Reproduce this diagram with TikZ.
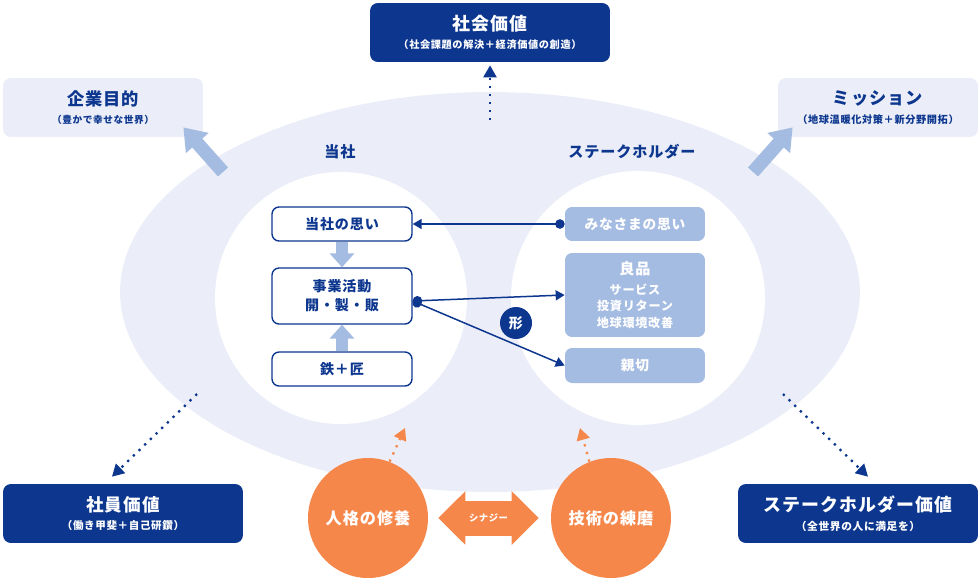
\documentclass[tikz,border=0pt]{standalone}
\usepackage{fontspec}
\setmainfont{Noto Sans CJK JP}[LetterSpace=6]
\usetikzlibrary{arrows.meta,positioning,calc}
\definecolor{kpnavy}{HTML}{0D378F}
\definecolor{kppale}{HTML}{EBEEF8}
\definecolor{kplight}{HTML}{A5BCE2}
\definecolor{kporange}{HTML}{F5874B}
\newcommand\fsz[2]{\fontsize{#1}{#2}\selectfont}
\tikzset{
  bx/.style={rounded corners=4pt, align=center, inner sep=2pt, font=\bfseries},
  navybox/.style={bx, rounded corners=4.5pt, fill=kpnavy, text=white, minimum width=4.8cm, minimum height=1.18cm},
  palebox/.style={bx, rounded corners=4.5pt, fill=kppale, text=kpnavy, minimum width=4cm, minimum height=1.18cm},
  wbox/.style={bx, draw=kpnavy, line width=0.8pt, fill=white, text=kpnavy, minimum width=2.8cm},
  sbox/.style={bx, fill=kplight, text=white, minimum width=2.8cm},
  orb/.style={circle, fill=kporange, text=white, minimum size=2.4cm, inner sep=0pt, font=\bfseries\fsz{9.2}{11}},
  seal/.style={circle, fill=kpnavy, text=white, minimum size=0.64cm, inner sep=0pt, font=\bfseries\fsz{8}{9}},
  hdr/.style={text=kpnavy, font=\bfseries\fsz{8.6}{10}},
  link/.style={{Circle[length=0.19cm]}-{Triangle[length=0.18cm, width=0.2cm]}, line width=0.85pt, color=kpnavy},
  flow/.style={-{Triangle[length=0.28cm, width=0.48cm]}, line width=0.24cm, color=kplight},
  lift/.style={-{Triangle[length=0.42cm, width=0.58cm]}, line width=0.27cm, color=kplight},
  dots/.style={-{Triangle[length=0.24cm, width=0.26cm]}, line width=1.3pt, dash pattern=on 1.3pt off 3.2pt, color=kpnavy},
  odots/.style={-{Triangle[length=0.24cm, width=0.26cm]}, line width=1.3pt, dash pattern=on 1.3pt off 3.2pt, color=kporange},
  synergy/.style={{Triangle[length=0.54cm, width=1.04cm]}-{Triangle[length=0.54cm, width=1.04cm]}, line width=0.7cm, color=kporange},
}
\begin{document}
\begin{tikzpicture}[x=0.02cm, y=-0.02cm]
  \useasboundingbox (0,0) rectangle (980,581);
  % field and the two circles
  \fill[kppale] (490,292) ellipse [x radius=7.4cm, y radius=4cm];
  \fill[white] (341,298) circle [radius=2.52cm];
  \fill[white] (638,298) circle [radius=2.54cm];
  % values
  \node[navybox] (shakai) at (490,32.5) {\fsz{10.2}{12}社会価値\\[-1.5pt]\fsz{5.8}{7}（社会課題の解決＋経済価値の創造）};
  \node[palebox] (kigyo) at (103,107.5) {\fsz{9.8}{12}企業目的\\[-1.5pt]\fsz{5.5}{7}（豊かで幸せな世界）};
  \node[palebox] (mission) at (878,107.5) {\fsz{9.8}{12}ミッション\\[-1.5pt]\fsz{5.8}{7}（地球温暖化対策＋新分野開拓）};
  \node[navybox] (shain) at (123,513.5) {\fsz{10}{12}社員価値\\[-1.5pt]\fsz{6}{7}（働き甲斐＋自己研鑽）};
  \node[navybox] (holderv) at (858,513.5) {\fsz{10.2}{12}ステークホルダー価値\\[-1.5pt]\fsz{6.1}{7}（全世界の人に満足を）};
  % headings
  \node[hdr] (tosha) at (340,152) {当社};
  \node[hdr] (holder) at (632,152) {ステークホルダー};
  % our side
  \node[wbox, minimum height=0.68cm] (omoi) at (342,224) {\fsz{8}{10}当社の思い};
  \node[wbox, minimum height=1.12cm, font=\bfseries\fsz{8}{10.8}] (jigyo) at (342,296) {事業活動\\開・製・販};
  \node[wbox, minimum height=0.68cm] (tetsu) at (342,369) {\fsz{8}{10}鉄＋匠};
  \draw[flow] (omoi.south) -- (jigyo.north);
  \draw[flow] (tetsu.north) -- (jigyo.south);
  % stakeholder side
  \node[sbox, minimum height=0.68cm] (minasama) at (635,224) {\fsz{7.8}{10}みなさまの思い};
  \node[sbox, minimum height=1.68cm, font=\bfseries\fsz{6.9}{9.3}] (ryohin) at (635,295) {{\fsz{8.6}{11}良品}\\[2pt]サービス\\投資リターン\\地球環境改善};
  \node[sbox, minimum height=0.7cm] (shinsetsu) at (635,365.5) {\fsz{7.8}{10}親切};
  \node[seal] (katachi) at (516,323) {形};
  \coordinate (jout) at ([yshift=-0.1cm]jigyo.east);
  \draw[link] (minasama.west) -- (omoi.east);
  \draw[link] (jout) -- (ryohin.west);
  \draw[link] (jout) -- (shinsetsu.west);
  % out to the values
  \coordinate (tl) at (223,172);
  \coordinate (tr) at (753,172);
  \draw[lift] (tl) -- ([shift={(-0.4cm,0.2cm)}]kigyo.south east);
  \draw[lift] (tr) -- ([shift={(0.3cm,0.2cm)}]mission.south west);
  \coordinate (tc) at (490,120);
  \coordinate (bl) at (197,394);
  \coordinate (br) at (783,394);
  \draw[dots] (tc) -- ([yshift=-0.06cm]shakai.south);
  \draw[dots] (bl) -- ([shift={(-0.22cm,0.14cm)}]shain.north);
  \draw[dots] (br) -- ([shift={(0.2cm,0.14cm)}]holderv.north);
  % the two roots
  \node[orb] (jinkaku) at (368,518) {人格の修養};
  \node[orb] (gijutsu) at (611,518) {技術の練磨};
  \coordinate (jup) at (405,428);
  \coordinate (gup) at (580,428);
  \draw[odots] (jinkaku.69) -- (jup);
  \draw[odots] (gijutsu.111) -- (gup);
  \draw[synergy] ([xshift=0.2cm]jinkaku.east) -- node[text=white, font=\bfseries\fsz{5.3}{6}] (syn) {シナジー} ([xshift=-0.24cm]gijutsu.west);
\end{tikzpicture}
\end{document}
